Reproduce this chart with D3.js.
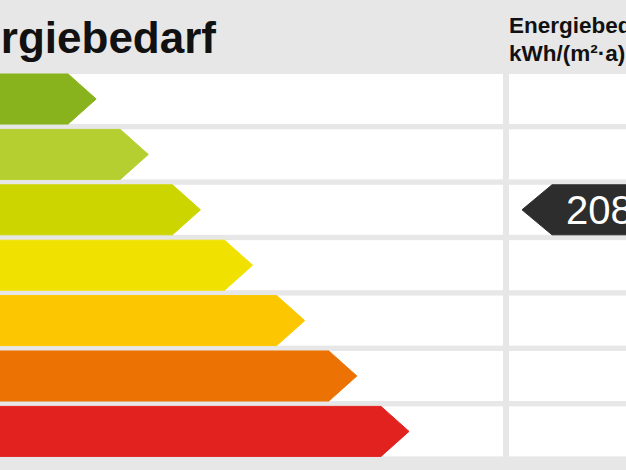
<!DOCTYPE html>
<html>
<head>
<meta charset="utf-8">
<script src="https://cdn.jsdelivr.net/npm/d3@7/dist/d3.min.js"></script>
<style>
html,body{margin:0;padding:0;background:#e7e7e7;overflow:hidden;}
svg{display:block;font-family:"Liberation Sans",Arial,sans-serif;}
</style>
</head>
<body>
<svg id="chart" width="626" height="470"></svg>
<script>
// data
const classes = ["A+","A","B","C","D","E","F"];
const classRank = [1,2,3,4,5,6,7];
const classColors = ["#88b31c","#b6cf30","#ccd500","#f0e100","#fcc700","#ec7303","#e2221f"];
const titleText = "Energiebedarf";
const headerLines = ["Energiebedarf","kWh/(m²·a)"];
const markerValue = 208;
const markerClass = "B";

const W = 626, H = 470;
const svg = d3.select("#chart");

svg.append("rect").attr("width",W).attr("height",H).attr("fill","#e7e7e7");

const y = d3.scaleBand().domain(classes).range([74, 456.4]).paddingInner(0.097).paddingOuter(0);
const x = d3.scaleLinear().domain([0,7]).range([44,409]);

const leftCol = [0, 503], rightCol = [509, 626];

// white cells
const rows = svg.append("g");
classes.forEach(c => {
  rows.append("rect").attr("x",leftCol[0]).attr("y",y(c)).attr("width",leftCol[1]-leftCol[0]).attr("height",y.bandwidth()).attr("fill","#ffffff");
  rows.append("rect").attr("x",rightCol[0]).attr("y",y(c)).attr("width",rightCol[1]-rightCol[0]).attr("height",y.bandwidth()).attr("fill","#ffffff");
});

// arrow bars
const pointDepth = 28;
const bars = svg.append("g");
classes.forEach((c,i) => {
  const top = y(c), bh = y.bandwidth(), tip = x(classRank[i]);
  const pts = [[-10,top],[tip-pointDepth,top],[tip,top+bh/2],[tip-pointDepth,top+bh],[-10,top+bh]];
  bars.append("path").attr("d", d3.line()(pts)+"Z")
    .attr("fill",classColors[i]).attr("stroke",classColors[i]).attr("stroke-width",1).attr("stroke-linejoin","round");
});

// title
svg.append("text").attr("x",216).attr("y",53).attr("text-anchor","end")
  .attr("font-size",44).attr("font-weight","bold").attr("fill","#111").text(titleText);

// right header
headerLines.forEach((t,i) => {
  svg.append("text").attr("x",509).attr("y",33+i*28).attr("font-size",22.5).attr("font-weight","bold").attr("fill","#111").text(t);
});

// marker
const my = y(markerClass), mh = y.bandwidth();
const mTip = 522, mBody = 552;
svg.append("path").attr("d", d3.line()([[mTip,my+mh/2],[mBody,my],[W+10,my],[W+10,my+mh],[mBody,my+mh]])+"Z")
  .attr("fill","#2d2d2d").attr("stroke","#2d2d2d").attr("stroke-linejoin","round");
svg.append("text").attr("x",566).attr("y",my+mh/2+14).attr("font-size",40).attr("fill","#ffffff").text(markerValue);
</script>
</body>
</html>
